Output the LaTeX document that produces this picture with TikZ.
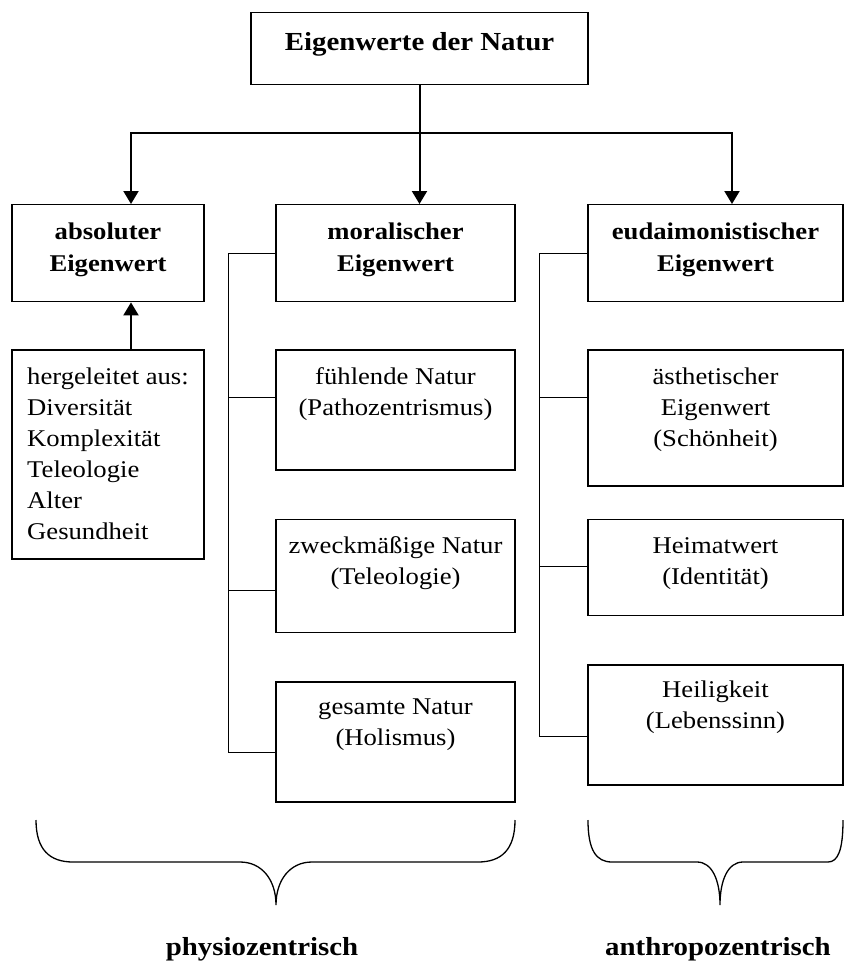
\documentclass[tikz,border=0pt]{standalone}
\usepackage{fontspec}
\setmainfont{Liberation Serif}[FakeStretch=1.11]
\usetikzlibrary{arrows.meta,positioning,calc}

\begin{document}
\begin{tikzpicture}[
        x=1pt, y=-1pt,
        node distance=47pt,
        box/.style={rectangle, draw, line width=1.4pt, anchor=north, align=center, inner ysep=0pt, inner xsep=3pt, font=\fontsize{24}{31}\selectfont},
        head/.style={box, font=\fontsize{24}{32}\selectfont\bfseries, text height=67pt, text depth=30pt},
        arrow/.style={line width=2pt, -{Triangle[length=13pt,width=15pt]}},
        bar/.style={line width=1.3pt},
        brace/.style={line width=1.3pt},
        group/.style={font=\fontsize{26}{31}\selectfont\bfseries, anchor=base}
    ]
        \useasboundingbox (0,0) rectangle (844,963);

        \node[box, font=\fontsize{26}{31}\selectfont\bfseries, minimum width=337pt, text height=38pt, text depth=34pt] (natur) at (419.5,12) {Eigenwerte der Natur};
        \node[head, minimum width=192pt] (absolut) at (108,204) {absoluter\\Eigenwert};
        \node[head, minimum width=239pt] (moral) at (395.5,204) {moralischer\\Eigenwert};
        \node[head, minimum width=255pt] (eudaim) at (715.5,204) {eudaimonistischer\\Eigenwert};

        \node[box, below=of absolut, minimum width=192pt, align=left, text height=189pt, text depth=20pt] (quellen) {hergeleitet aus:\\Diversität\\Komplexität\\Teleologie\\Alter\\Gesundheit};

        \node[box, below=of moral, minimum width=239pt, text height=65pt, text depth=55pt] (fuehlend) {fühlende Natur\\(Pathozentrismus)};
        \node[box, below=48pt of fuehlend, minimum width=239pt, text height=65pt, text depth=48pt] (zweck) {zweckmäßige Natur\\(Teleologie)};
        \node[box, below=48pt of zweck, minimum width=239pt, text height=64pt, text depth=56pt] (gesamt) {gesamte Natur\\(Holismus)};

        \node[box, below=of eudaim, minimum width=255pt, text height=96pt, text depth=40pt] (aesth) {ästhetischer\\Eigenwert\\(Schönheit)};
        \node[box, below=32pt of aesth, minimum width=255pt, text height=65pt, text depth=31pt] (heimat) {Heimatwert\\(Identität)};
        \node[box, below=48pt of heimat, minimum width=255pt, text height=64pt, text depth=56pt] (heilig) {Heiligkeit\\(Lebenssinn)};

        \coordinate (split) at ($(natur.south)+(0,48)$);
        \draw[arrow] (natur.south) -- (natur.south |- moral.north);
        \draw[arrow] (split) -| ([xshift=23pt]absolut.north);
        \draw[arrow] (split) -| ([xshift=16.5pt]eudaim.north);
        \draw[arrow] ([xshift=23pt]quellen.north) -- ([xshift=23pt]absolut.south);

        \coordinate (mbar) at ($(moral.west)+(-47,0)$);
        \draw[bar] (moral.west) -- (mbar) |- ([yshift=-71pt]gesamt.north west);
        \draw[bar] ([yshift=-48pt]fuehlend.north west) -| (mbar);
        \draw[bar] ([yshift=-72pt]zweck.north west) -| (mbar);

        \coordinate (ebar) at ($(eudaim.west)+(-48,0)$);
        \draw[bar] (eudaim.west) -- (ebar) |- ([yshift=-72pt]heilig.north west);
        \draw[bar] ([yshift=-48pt]aesth.north west) -| (ebar);
        \draw[bar] ([yshift=-48pt]heimat.north west) -| (ebar);

        \draw[brace] (36,820) .. controls (36,850) and (50,862) .. (73,862) -- (240,862) .. controls (262,862) and (276,880) .. (276,905) .. controls (276,880) and (290,862) .. (312,862) -- (478,862) .. controls (501,862) and (515,850) .. (515,820);
        \draw[brace] (588,820) .. controls (588,850) and (596,862) .. (612,862) -- (697,862) .. controls (712,862) and (720,880) .. (720,905) .. controls (720,880) and (728,862) .. (743,862) -- (828,862) .. controls (838,862) and (843,850) .. (843,820);

        \node[group] (physio) at (262,955) {physiozentrisch};
        \node[group] (anthropo) at (718,955) {anthropozentrisch};
    \end{tikzpicture}
\end{document}
